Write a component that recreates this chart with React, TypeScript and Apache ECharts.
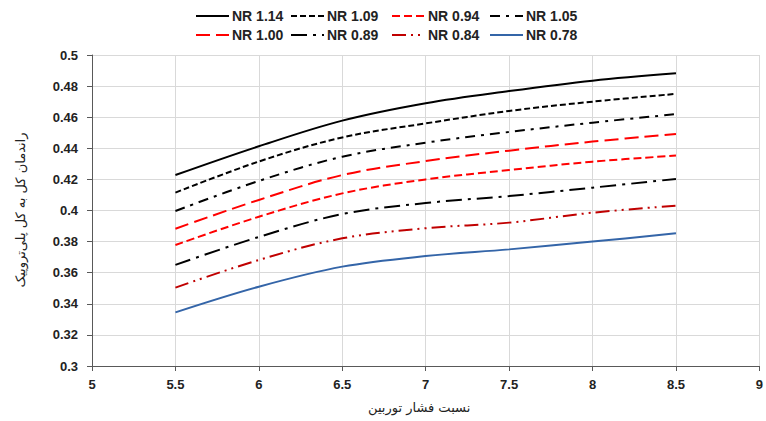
import React, { useEffect, useRef } from "react";
import * as echarts from "echarts";

const xValues = [5.5, 6, 6.5, 7, 7.5, 8, 8.5];
const seriesNames = ["NR 1.14", "NR 1.09", "NR 0.94", "NR 1.05", "NR 1.00", "NR 0.89", "NR 0.84", "NR 0.78"];
const nr114 = [0.4228, 0.4413, 0.4578, 0.4690, 0.4768, 0.4835, 0.4882];
const nr109 = [0.4115, 0.4315, 0.4470, 0.4560, 0.4640, 0.4700, 0.4750];
const nr105 = [0.3997, 0.4190, 0.4346, 0.4436, 0.4505, 0.4565, 0.4620];
const nr100 = [0.3883, 0.4068, 0.4228, 0.4318, 0.4385, 0.4443, 0.4492];
const nr094 = [0.3778, 0.3960, 0.4110, 0.4200, 0.4260, 0.4314, 0.4353];
const nr089 = [0.3650, 0.3830, 0.3977, 0.4048, 0.4093, 0.4147, 0.4203];
const nr084 = [0.3504, 0.3682, 0.3821, 0.3886, 0.3922, 0.3986, 0.4031];
const nr078 = [0.3345, 0.3510, 0.3639, 0.3707, 0.3750, 0.3800, 0.3853];

const valuesByName: Record<string, number[]> = {
  "NR 1.14": nr114,
  "NR 1.09": nr109,
  "NR 0.94": nr094,
  "NR 1.05": nr105,
  "NR 1.00": nr100,
  "NR 0.89": nr089,
  "NR 0.84": nr084,
  "NR 0.78": nr078,
};

const styleByName: Record<string, { color: string; type: any }> = {
  "NR 1.14": { color: "#000000", type: "solid" },
  "NR 1.09": { color: "#000000", type: [6, 3] },
  "NR 0.94": { color: "#FF0000", type: [8, 4] },
  "NR 1.05": { color: "#000000", type: [10, 6, 3, 6] },
  "NR 1.00": { color: "#FF0000", type: [14, 6] },
  "NR 0.89": { color: "#000000", type: [16, 6, 3, 6] },
  "NR 0.84": { color: "#C00000", type: [14, 5, 2, 5, 2, 5] },
  "NR 0.78": { color: "#3465A8", type: "solid" },
};

const legendLefts = [195, 290, 391, 489];
const legendTops = [9, 28];

export default function App() {
  const ref = useRef<HTMLDivElement>(null);
  useEffect(() => {
    if (!ref.current) return;
    const chart = echarts.init(ref.current, null, { renderer: "svg" });
    const font = "'Liberation Sans', Arial, sans-serif";
    const legends = seriesNames.map((name, i) => ({
      data: [name],
      left: legendLefts[i % 4],
      top: legendTops[Math.floor(i / 4)],
      itemWidth: 33,
      itemHeight: 14,
      itemGap: 0,
      padding: 0,
      itemStyle: { opacity: 0 },
      textStyle: { fontFamily: font, fontSize: 14, fontWeight: "bold", color: "#222", padding: [0, 0, 0, -2] },
    }));
    chart.setOption({
      animation: false,
      backgroundColor: "#ffffff",
      legend: legends,
      grid: { left: 92, right: 0, top: 55, bottom: 55, containLabel: false },
      xAxis: {
        type: "value",
        min: 5,
        max: 9,
        interval: 0.5,
        axisLine: { show: true, lineStyle: { color: "#595959", width: 1 } },
        axisTick: { show: true, length: 5, lineStyle: { color: "#595959" } },
        axisLabel: { fontFamily: font, fontSize: 13, fontWeight: "bold", color: "#222", margin: 12 },
        splitLine: { show: true, lineStyle: { color: "#d9d9d9", width: 1 } },
      },
      yAxis: {
        type: "value",
        min: 0.3,
        max: 0.5,
        interval: 0.02,
        axisLine: { show: true, lineStyle: { color: "#595959", width: 1 } },
        axisTick: { show: true, length: 5, lineStyle: { color: "#595959" } },
        axisLabel: {
          fontFamily: font,
          fontSize: 13,
          fontWeight: "bold",
          color: "#222",
          margin: 14,
          formatter: (v: number) => String(Math.round(v * 100) / 100),
        },
        splitLine: { show: true, lineStyle: { color: "#d9d9d9", width: 1 } },
      },
      graphic: [
        {
          type: "text",
          left: 368,
          top: 401,
          style: { text: "نسبت فشار توربین", fontFamily: "'DejaVu Sans', sans-serif", fontSize: 13, fill: "#222" },
        },
        {
          type: "text",
          x: 20,
          y: 210,
          rotation: Math.PI / 2,
          style: {
            text: "راندمان کل به کل پلی‌تروپیک",
            fontFamily: "'DejaVu Sans', sans-serif",
            fontSize: 13,
            fill: "#222",
            align: "center",
            verticalAlign: "middle",
          },
        },
      ],
      series: seriesNames.map((name) => ({
        name,
        type: "line",
        smooth: 0.35,
        symbol: "none",
        showSymbol: false,
        data: xValues.map((x, j) => [x, valuesByName[name][j]]),
        lineStyle: { color: styleByName[name].color, type: styleByName[name].type, width: 2 },
        itemStyle: { color: styleByName[name].color },
      })),
    });
    return () => chart.dispose();
  }, []);
  return <div ref={ref} style={{ width: 766, height: 421, position: "absolute", left: 0, top: 0 }} />;
}
